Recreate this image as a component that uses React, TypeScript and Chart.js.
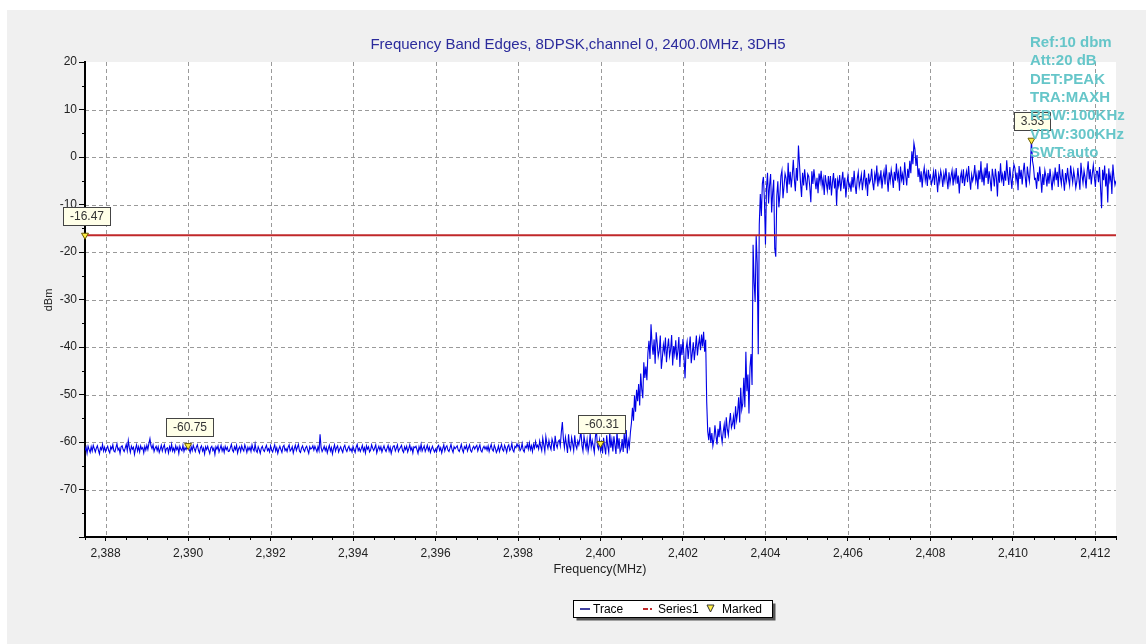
import React, { useEffect, useRef } from 'react';
import { Chart, registerables } from 'chart.js';

Chart.register(...registerables);

const W = 1146;
const H = 644;

const titleText = 'Frequency Band Edges, 8DPSK,channel 0, 2400.0MHz, 3DH5';
const xAxisTitle = 'Frequency(MHz)';
const yAxisTitle = 'dBm';

const traceStartMHz = 2387.5;
const traceStepMHz = 0.025;
const traceDbm = [
  // 2387.5 – 2398.475 MHz : noise floor
  -61.8,-61.1,-62.4,-60.9,-61.6,-62.2,-61.0,-61.9,-60.7,-61.4,-62.1,-61.3,-60.8,-61.7,-62.5,-61.2,-61.6,-60.5,-61.9,-61.1,
  -62.0,-61.4,-60.9,-61.8,-62.3,-61.0,-61.5,-60.6,-61.9,-62.1,-61.2,-60.4,-61.7,-61.3,-62.4,-61.0,-60.8,-61.6,-62.0,-61.3,
  -60.5,-61.8,-59.7,-61.2,-62.2,-60.9,-61.5,-61.1,-62.6,-61.4,-60.6,-61.9,-61.0,-62.1,-60.8,-61.5,-61.2,-62.3,-60.9,-61.7,
  -60.7,-61.6,-60.3,-59.3,-60.8,-61.4,-60.6,-62.0,-61.3,-60.9,-61.8,-61.0,-62.2,-61.5,-60.7,-61.9,-61.1,-60.6,-62.1,-61.4,
  -61.2,-62.3,-61.0,-61.7,-60.5,-61.9,-61.3,-62.1,-60.8,-61.6,-61.1,-62.4,-60.9,-61.5,-61.8,-60.7,-62.0,-61.2,-61.6,-60.9,
  -60.9,-61.5,-62.2,-61.0,-61.8,-60.7,-61.4,-62.0,-61.1,-60.6,-61.7,-62.3,-61.2,-60.8,-61.9,-61.3,-62.5,-61.0,-61.6,-60.9,
  -61.7,-62.4,-61.2,-60.9,-61.8,-61.3,-62.6,-61.0,-61.5,-60.8,-62.1,-61.4,-60.7,-61.9,-61.2,-62.2,-60.9,-61.6,-61.1,-62.0,
  -61.9,-61.2,-60.5,-61.7,-62.1,-61.0,-61.6,-60.7,-62.3,-61.4,-61.0,-62.0,-60.8,-61.5,-61.9,-60.6,-61.3,-62.2,-61.1,-61.7,
  -61.1,-62.0,-60.6,-61.5,-61.9,-60.4,-61.8,-62.2,-61.0,-61.6,-62.4,-61.3,-60.9,-61.7,-62.0,-61.2,-60.7,-61.8,-61.4,-62.1,
  -60.8,-61.7,-62.1,-61.3,-60.6,-61.9,-61.2,-62.4,-61.5,-60.9,-61.6,-62.2,-61.0,-60.7,-61.8,-61.4,-62.0,-61.1,-60.6,-61.9,
  -61.6,-61.0,-62.3,-61.4,-60.7,-61.8,-61.1,-60.5,-61.9,-62.2,-61.3,-60.8,-61.6,-62.0,-61.2,-60.9,-61.7,-62.4,-61.0,-61.5,
  -61.3,-60.8,-61.7,-60.9,-61.5,-62.1,-61.0,-61.8,-58.4,-61.2,-62.0,-61.5,-60.9,-61.8,-61.1,-62.3,-61.4,-60.7,-61.9,-61.2,
  -62.5,-61.4,-60.6,-61.9,-61.2,-60.8,-62.1,-61.5,-61.0,-61.7,-62.2,-61.1,-60.7,-61.6,-62.0,-61.3,-60.9,-61.8,-61.4,-62.1,
  -60.9,-61.6,-62.2,-61.1,-60.5,-61.8,-61.3,-62.0,-61.4,-60.7,-61.9,-61.2,-62.3,-60.8,-61.5,-61.0,-62.1,-61.7,-60.6,-61.3,
  -61.8,-61.2,-60.6,-62.3,-61.5,-60.9,-61.7,-61.0,-62.1,-61.4,-60.8,-61.6,-62.0,-61.3,-60.7,-61.9,-61.1,-62.4,-61.5,-60.9,
  -60.8,-61.9,-61.3,-60.6,-62.0,-61.5,-61.1,-60.7,-61.8,-62.2,-61.0,-61.6,-60.9,-62.1,-61.4,-60.6,-61.7,-61.2,-62.3,-61.0,
  -61.2,-60.9,-61.6,-62.4,-61.0,-61.7,-60.5,-61.9,-61.3,-60.8,-62.0,-61.4,-60.7,-61.8,-61.1,-62.2,-61.5,-60.9,-61.6,-62.1,
  -61.5,-62.1,-61.0,-60.7,-61.8,-61.2,-62.3,-61.4,-60.6,-61.9,-61.1,-60.8,-61.7,-62.0,-61.3,-60.5,-61.6,-62.2,-61.0,-61.4,
  -61.1,-60.8,-61.7,-62.0,-61.3,-60.5,-61.6,-62.2,-61.0,-61.4,-60.7,-61.9,-61.2,-60.6,-61.8,-62.1,-61.3,-60.9,-61.5,-61.0,
  -60.7,-61.9,-61.2,-60.6,-61.8,-62.1,-61.3,-60.9,-61.5,-61.0,-61.7,-60.8,-62.0,-61.2,-60.5,-61.6,-61.9,-60.7,-61.3,-62.2,
  -61.7,-60.8,-62.0,-61.2,-60.5,-61.6,-61.9,-60.7,-61.3,-62.2,-61.0,-60.6,-61.8,-61.4,-60.3,-61.7,-62.1,-60.9,-61.2,-60.4,
  -61.0,-60.6,-61.8,-61.4,-60.3,-61.7,-62.1,-60.9,-61.2,-60.4,-61.5,-60.2,-61.6,-60.8,-62.0,-60.5,-61.3,-59.9,-61.1,-60.7,
  // 2398.5 – 2400.725 MHz : slightly raised floor
  -61.5,-59.8,-60.9,-61.8,-59.2,-60.6,-62.0,-58.9,-60.4,-61.3,-59.7,-60.9,-61.6,-59.4,-60.2,-61.9,-58.7,-60.5,-61.2,-59.9,
  -59.6,-60.8,-57.9,-55.8,-59.4,-61.2,-59.0,-60.5,-62.3,-58.4,-60.9,-61.6,-59.1,-60.3,-61.8,-58.6,-60.7,-61.4,-59.8,-60.6,
  -59.3,-57.6,-60.7,-61.9,-58.8,-60.2,-61.4,-59.5,-62.0,-60.6,-58.3,-61.1,-59.7,-60.9,-62.2,-59.0,-57.4,-60.8,-61.5,-59.6,
  -61.8,-60.3,-62.4,-59.1,-61.0,-62.6,-58.6,-60.8,-62.2,-57.9,-61.2,-59.5,-62.0,-58.8,-60.6,-62.5,-57.7,-61.4,-59.2,-62.1,
  -61.5,-59.4,-62.1,-58.2,-61.3,-57.5,-62.4,-59.7,-61.0,-58.0,
  // 2400.75 – 2404.525 MHz : band edge
  -56.0,-52.8,-55.5,-50.2,-53.6,-49.0,-51.4,-47.8,-52.3,-45.6,-48.9,-50.8,-43.2,-46.5,-44.1,-47.0,-41.2,-38.7,-42.5,-35.2,
  -39.4,-41.6,-38.4,-43.5,-36.9,-39.2,-42.0,-40.8,-37.6,-44.6,-42.3,-39.5,-41.1,-38.0,-43.2,-40.2,-38.2,-41.9,-40.6,-37.5,
  -43.9,-39.8,-41.5,-38.6,-42.7,-40.9,-37.9,-44.2,-39.4,-41.7,-38.3,-42.1,-46.6,-40.4,-38.9,-42.5,-40.1,-37.8,-43.4,-41.3,
  -39.0,-42.8,-40.3,-37.6,-41.8,-39.5,-38.1,-40.7,-37.4,-39.9,-36.8,-41.0,-38.5,-51.5,-57.8,-59.6,-56.9,-60.2,-58.1,-60.8,
  -59.4,-56.5,-58.7,-60.5,-57.2,-59.0,-55.6,-58.4,-60.1,-57.9,-56.3,-59.2,-54.8,-57.3,-58.6,-55.9,-53.9,-57.0,-56.2,-54.6,
  -57.3,-52.5,-55.4,-53.8,-50.6,-55.9,-48.6,-53.2,-51.9,-46.5,-52.7,-41.0,-49.3,-45.8,-54.0,-44.2,-41.5,-48.0,-18.5,-26.3,
  -30.5,-16.6,-22.4,-41.5,-14.2,-7.8,-12.4,-5.6,-4.2,-9.1,-18.4,-6.5,-3.3,-9.8,-5.9,-3.6,-11.7,-7.4,-4.8,-19.3,
  -21.0,-8.2,-5.1,-10.6,-7.9,-4.0,-2.8,-8.7,-6.2,-3.5,-4.5,-7.6,
  // 2404.55 – 2412.5 MHz : in-band
  -1.2,-5.8,-3.1,-6.4,-3.9,-0.6,-4.7,-7.2,-2.3,-5.0,2.4,-1.5,-5.5,-8.4,-3.3,-6.0,-2.6,-4.9,-7.0,-3.6,
  -4.1,-6.3,-9.5,-3.0,-5.7,-2.6,-4.8,-6.8,-4.4,-7.6,-3.5,-5.2,-2.9,-6.1,-4.6,-8.0,-3.8,-5.5,-7.1,-4.0,
  -6.9,-4.0,-8.1,-5.3,-3.4,-6.6,-4.5,-10.2,-4.8,-6.1,-3.8,-7.2,-5.0,-3.1,-6.7,-4.3,-8.5,-5.6,-3.9,-6.4,
  -5.6,-7.3,-4.2,-6.4,-2.9,-5.9,-7.8,-4.6,-3.2,-6.3,-5.1,-3.7,-7.0,-4.8,-2.7,-6.0,-4.4,-8.2,-3.5,-5.4,
  -4.7,-2.5,-5.4,-7.0,-3.6,-4.9,-1.8,-6.2,-3.9,-5.1,-2.8,-6.6,-4.3,-3.0,-5.8,-1.6,-4.5,-7.3,-3.2,-5.0,
  -2.7,-4.3,-6.5,-3.1,-5.0,-1.4,-4.6,-3.3,-7.1,-2.0,-4.8,-3.6,-5.9,-1.1,-3.9,-6.0,-2.5,-4.4,-0.8,-3.4,
  1.2,-1.5,2.9,1.6,-1.9,0.4,-4.2,-2.4,-5.3,-3.0,-6.4,-3.7,-2.2,-4.9,-3.3,-6.1,-2.7,-4.5,-3.9,-5.7,
  -4.8,-3.1,-5.9,-2.6,-4.5,-7.4,-3.8,-5.2,-2.9,-4.1,-6.3,-3.5,-5.0,-2.4,-4.7,-6.8,-3.2,-5.5,-4.0,-2.8,
  -6.0,-3.4,-4.9,-2.3,-5.6,-3.9,-7.7,-4.4,-3.2,-5.5,-2.6,-6.1,-4.2,-3.0,-5.3,-1.9,-4.6,-6.9,-3.7,-5.0,
  -4.0,-1.7,-5.1,-3.6,-6.8,-2.8,-4.7,-0.9,-5.3,-3.5,-6.0,-2.2,-4.4,-1.3,-5.7,-3.0,-4.9,-7.2,-2.5,-4.1,
  -6.2,-2.5,-4.4,-8.3,-3.0,-5.4,-1.3,-4.8,-3.7,-6.1,-2.9,-5.0,-0.7,-3.8,-5.9,-2.1,-4.5,-6.7,-3.3,-1.6,
  -2.4,-5.0,-3.3,-7.0,-1.9,-4.6,-2.7,-5.8,-3.1,-1.2,-4.3,-6.4,-2.0,-3.9,-5.2,-1.5,3.53,-0.8,-2.1,-4.7,
  -4.5,-6.7,-3.2,-5.1,-2.0,-4.3,-7.5,-3.6,-5.9,-2.8,-4.1,-6.2,-3.4,-5.6,-2.5,-4.8,-7.0,-3.9,-5.3,-2.2,
  -4.9,-3.1,-6.3,-1.5,-4.2,-5.7,-2.6,-4.8,-7.1,-3.4,-5.0,-2.3,-4.6,-6.0,-1.8,-3.7,-5.4,-2.9,-4.4,-6.5,
  -5.2,-2.3,-4.6,-6.9,-1.2,-3.8,-5.5,-2.9,-4.4,-6.6,-3.1,-0.9,-4.7,-2.6,-5.8,-3.5,-1.7,-4.2,-6.3,-3.0,
  -3.0,-5.3,-2.1,-6.4,-10.8,-2.7,-4.9,-1.8,-6.2,-3.5,-9.6,-2.4,-5.0,-3.8,-7.8,-1.6,-4.3,-5.9,-5.0,
];

const limitFreqMHz = [2387.5, 2412.5];
const limitDbm = [-16.47, -16.47];

const markerFreqMHz = [2387.5, 2390.0, 2400.0, 2410.45];
const markerDbm = [-16.47, -60.75, -60.31, 3.53];
const markerLabels = ['-16.47', '-60.75', '-60.31', '3.53'];

const xMin = 2387.5;
const xMax = 2412.5;
const xTickValues = [2388, 2390, 2392, 2394, 2396, 2398, 2400, 2402, 2404, 2406, 2408, 2410, 2412];
const yTickValues = [20, 10, 0, -10, -20, -30, -40, -50, -60, -70, -80];

const infoLines = ['Ref:10 dbm', 'Att:20 dB', 'DET:PEAK', 'TRA:MAXH', 'RBW:100KHz', 'VBW:300KHz', 'SWT:auto'];

const legendNames = ['Trace', 'Series1', 'Marked'];

const FONT = '"Liberation Sans", Arial, sans-serif';
const TRACE_COLOR = '#0000e6';
const LIMIT_COLOR = '#c0282a';

const decoPlugin = {
  id: 'deco',
  beforeDraw(chart: any) {
    const { ctx, chartArea: a } = chart;
    ctx.save();
    ctx.fillStyle = '#ffffff';
    ctx.fillRect(0, 0, W, H);
    ctx.fillStyle = '#f0f0f0';
    ctx.fillRect(7, 10, W - 7, H - 10);
    ctx.fillStyle = '#ffffff';
    ctx.fillRect(a.left, a.top, a.right - a.left, a.bottom - a.top);
    const xs = chart.scales.x;
    const ys = chart.scales.y;
    ctx.strokeStyle = '#9a9a9a';
    ctx.lineWidth = 1;
    ctx.setLineDash([4, 3]);
    xTickValues.forEach((v) => {
      const px = Math.round(xs.getPixelForValue(v)) + 0.5;
      ctx.beginPath();
      ctx.moveTo(px, a.top);
      ctx.lineTo(px, a.bottom);
      ctx.stroke();
    });
    yTickValues.forEach((v) => {
      if (v >= 20 || v <= -80) return;
      const py = Math.round(ys.getPixelForValue(v)) + 0.5;
      ctx.beginPath();
      ctx.moveTo(a.left, py);
      ctx.lineTo(a.right, py);
      ctx.stroke();
    });
    ctx.restore();
  },
  afterDraw(chart: any) {
    const { ctx, chartArea: a } = chart;
    const xs = chart.scales.x;
    const ys = chart.scales.y;
    ctx.save();
    // minor ticks
    ctx.strokeStyle = '#000';
    ctx.lineWidth = 1;
    for (let k = 0; k <= 50; k++) {
      const v = xMin + k * 0.5;
      if (Number.isInteger(v) && v % 2 === 0) continue;
      const px = Math.round(xs.getPixelForValue(v)) + 0.5;
      ctx.beginPath();
      ctx.moveTo(px, a.bottom);
      ctx.lineTo(px, a.bottom + 3);
      ctx.stroke();
    }
    for (let v = 15; v > -80; v -= 10) {
      const py = Math.round(ys.getPixelForValue(v)) + 0.5;
      ctx.beginPath();
      ctx.moveTo(a.left - 3, py);
      ctx.lineTo(a.left, py);
      ctx.stroke();
    }
    // title
    ctx.font = '15px ' + FONT;
    ctx.fillStyle = '#2b2b9c';
    ctx.textAlign = 'center';
    ctx.textBaseline = 'middle';
    ctx.fillText(titleText, 578, 45);
    // axis titles
    ctx.fillStyle = '#222';
    ctx.font = '12.5px ' + FONT;
    ctx.fillText(xAxisTitle, 600, 570);
    ctx.save();
    ctx.translate(49, 300);
    ctx.rotate(-Math.PI / 2);
    ctx.font = '11px ' + FONT;
    ctx.fillText(yAxisTitle, 0, 0);
    ctx.restore();
    // marker labels
    ctx.font = '12px ' + FONT;
    markerFreqMHz.forEach((f, i) => {
      const px = xs.getPixelForValue(f);
      const py = ys.getPixelForValue(markerDbm[i]);
      const txt = markerLabels[i];
      const tw = ctx.measureText(txt).width;
      const bw = Math.round(tw + 13);
      const bh = 18;
      const bx = Math.round(px + 1 - bw / 2) + 0.5;
      const by = Math.round(py - 10 - bh) + 0.5;
      ctx.fillStyle = '#ffffe8';
      ctx.fillRect(bx, by, bw, bh);
      ctx.strokeStyle = '#444';
      ctx.lineWidth = 1;
      ctx.strokeRect(bx, by, bw, bh);
      ctx.fillStyle = '#333';
      ctx.textAlign = 'center';
      ctx.textBaseline = 'middle';
      ctx.fillText(txt, bx + bw / 2, by + bh / 2 + 0.5);
    });
    // info text
    ctx.font = 'bold 15px ' + FONT;
    ctx.fillStyle = '#66c6c9';
    ctx.textAlign = 'left';
    ctx.textBaseline = 'middle';
    infoLines.forEach((t, i) => {
      ctx.fillText(t, 1030, 43 + i * 18.3);
    });
    // legend
    const lx = 573.5, ly = 600.5, lw = 199, lh = 17;
    ctx.fillStyle = '#555';
    ctx.fillRect(lx + 3, ly + 3, lw, lh);
    ctx.fillStyle = '#fff';
    ctx.fillRect(lx, ly, lw, lh);
    ctx.strokeStyle = '#000';
    ctx.strokeRect(lx, ly, lw, lh);
    const cy = 609;
    ctx.strokeStyle = '#000080';
    ctx.lineWidth = 1.5;
    ctx.beginPath();
    ctx.moveTo(580, cy);
    ctx.lineTo(590, cy);
    ctx.stroke();
    ctx.strokeStyle = LIMIT_COLOR;
    ctx.lineWidth = 2;
    ctx.beginPath();
    ctx.moveTo(643, cy);
    ctx.lineTo(648, cy);
    ctx.moveTo(650, cy);
    ctx.lineTo(652, cy);
    ctx.stroke();
    ctx.fillStyle = '#ffee44';
    ctx.strokeStyle = '#333';
    ctx.lineWidth = 1;
    ctx.beginPath();
    ctx.moveTo(707, 605);
    ctx.lineTo(714, 605);
    ctx.lineTo(710.5, 612);
    ctx.closePath();
    ctx.fill();
    ctx.stroke();
    ctx.fillStyle = '#000';
    ctx.font = '12px ' + FONT;
    ctx.textAlign = 'left';
    ctx.textBaseline = 'middle';
    ctx.fillText(legendNames[0], 593, cy + 0.5);
    ctx.fillText(legendNames[1], 658, cy + 0.5);
    ctx.fillText(legendNames[2], 722, cy + 0.5);
    ctx.restore();
  },
};

export default function App() {
  const ref = useRef<HTMLCanvasElement | null>(null);
  useEffect(() => {
    const canvas = ref.current;
    if (!canvas) return;
    Chart.defaults.font.family = FONT;
    const traceData = traceDbm.map((y, i) => ({ x: +(traceStartMHz + i * traceStepMHz).toFixed(3), y }));
    const limitData = limitFreqMHz.map((x, i) => ({ x, y: limitDbm[i] }));
    const markerData = markerFreqMHz.map((x, i) => ({ x, y: markerDbm[i] }));
    const chart = new Chart(canvas, {
      type: 'line',
      data: {
        datasets: [
          {
            label: legendNames[0],
            data: traceData,
            borderColor: TRACE_COLOR,
            borderWidth: 1.1,
            pointRadius: 0,
            tension: 0,
            order: 3,
          },
          {
            label: legendNames[1],
            data: limitData,
            borderColor: LIMIT_COLOR,
            borderWidth: 2,
            pointRadius: 0,
            order: 2,
          },
          {
            label: legendNames[2],
            data: markerData,
            showLine: false,
            pointStyle: 'triangle',
            rotation: 180,
            pointRadius: 4,
            pointBackgroundColor: '#ffee44',
            pointBorderColor: '#6a5a00',
            pointBorderWidth: 1,
            clip: false,
            order: 1,
          } as any,
        ],
      },
      options: {
        responsive: false,
        animation: false,
        devicePixelRatio: 1,
        events: [],
        layout: { padding: { left: 0, top: 62, right: 30, bottom: 0 } },
        plugins: {
          legend: { display: false },
          title: { display: false },
          tooltip: { enabled: false },
        },
        scales: {
          x: {
            type: 'linear',
            min: xMin,
            max: xMax,
            afterFit: (s: any) => {
              s.height = 107;
            },
            afterBuildTicks: (s: any) => {
              s.ticks = xTickValues.map((v) => ({ value: v }));
            },
            ticks: {
              autoSkip: false,
              maxRotation: 0,
              color: '#222',
              font: { size: 12, family: FONT },
              padding: 5,
              callback: (v: any) => Number(v).toLocaleString('en-US'),
            },
            grid: { drawOnChartArea: false, drawTicks: true, tickLength: 4, tickColor: '#000' },
            border: { display: true, color: '#000', width: 2 },
          },
          y: {
            type: 'linear',
            min: -80,
            max: 20,
            afterFit: (s: any) => {
              s.width = 85;
            },
            afterBuildTicks: (s: any) => {
              s.ticks = yTickValues.map((v) => ({ value: v }));
            },
            ticks: {
              autoSkip: false,
              color: '#222',
              font: { size: 12, family: FONT },
              padding: 2,
              callback: (v: any) => (v === -80 ? '' : String(v)),
            },
            grid: { drawOnChartArea: false, drawTicks: true, tickLength: 6, tickColor: '#000' },
            border: { display: true, color: '#000', width: 2 },
          },
        },
      },
      plugins: [decoPlugin],
    });
    return () => chart.destroy();
  }, []);
  return (
    <div style={{ position: 'fixed', left: 0, top: 0, width: W, height: H, background: '#fff' }}>
      <canvas ref={ref} width={W} height={H} style={{ display: 'block', width: W, height: H }} />
    </div>
  );
}
